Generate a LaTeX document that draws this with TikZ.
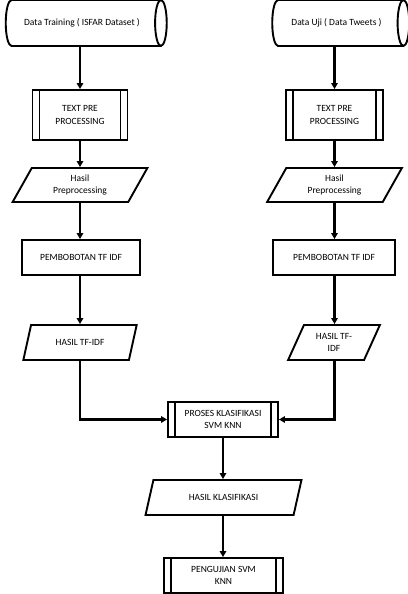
\documentclass[tikz,border=0pt]{standalone}
\usepackage{fontspec}
\setmainfont{Carlito}
\usetikzlibrary{shapes.geometric,arrows.meta}
\tikzset{
  base/.style={draw, line width=1.9pt, align=center, font=\fontsize{9.5}{12.5}\selectfont, inner sep=1pt},
  cyl/.style={base, cylinder, shape border rotate=0, aspect=1.1, minimum width=46pt},
  predef/.style={base, rectangle, minimum height=35pt,
    path picture={
      \draw[line width=1.9pt] ([xshift=7pt]path picture bounding box.north west) -- ([xshift=7pt]path picture bounding box.south west);
      \draw[line width=1.9pt] ([xshift=-7pt]path picture bounding box.north east) -- ([xshift=-7pt]path picture bounding box.south east);
    }},
  plainbox/.style={base, rectangle, minimum height=35pt},
  para/.style={base, trapezium, trapezium left angle=64, trapezium right angle=116, trapezium stretches=true, minimum height=35pt},
  arr/.style={line width=2.6pt, -{Triangle[width=6.5pt,length=6pt]}}
}
\begin{document}
\begin{tikzpicture}[x=1pt,y=-1pt]
\useasboundingbox (0,0) rectangle (407,594);
\node[cyl, minimum height=161pt] (c1) at (82,23) {Data Training ( ISFAR Dataset )};
\node[cyl, minimum height=137pt] (c2) at (336.5,23) {Data Uji ( Data Tweets )};
\node[predef, minimum width=95pt, minimum height=50pt] (tp1) at (80,115) {TEXT PRE\\PROCESSING};
\node[predef, minimum width=97pt, minimum height=50pt] (tp2) at (334.5,115) {TEXT PRE\\PROCESSING};
\node[para, minimum width=135pt, minimum height=34pt] (hp1) at (80,185) {Hasil\\Preprocessing};
\node[para, minimum width=135pt, minimum height=34pt] (hp2) at (334.5,185) {Hasil\\Preprocessing};
\node[plainbox, minimum width=118pt] (pb1) at (81,257.5) {PEMBOBOTAN TF IDF};
\node[plainbox, minimum width=122pt] (pb2) at (334,257.5) {PEMBOBOTAN TF IDF};
\node[para, minimum width=114pt] (ht1) at (80,342.5) {HASIL TF-IDF};
\node[para, minimum width=92pt] (ht2) at (334,342.5) {HASIL TF-\\IDF};
\node[predef, minimum width=110pt] (pk) at (223,419.5) {PROSES KLASIFIKASI\\SVM KNN};
\node[para, minimum width=157pt] (hk) at (223.5,497.5) {HASIL KLASIFIKASI};
\node[predef, minimum width=119pt] (pu) at (223.5,575.5) {PENGUJIAN SVM\\KNN};

\draw[arr] (c1.south -| tp1.north) -- (tp1.north);
\draw[arr] (c2.south -| tp2.north) -- (tp2.north);
\draw[arr] (tp1.south) -- (hp1.north -| tp1.south);
\draw[arr] (tp2.south) -- (hp2.north -| tp2.south);
\draw[arr] (hp1.south -| tp1.south) -- (pb1.north -| tp1.south);
\draw[arr] (hp2.south -| tp2.south) -- (pb2.north -| tp2.south);
\draw[arr] (pb1.south -| tp1.south) -- (ht1.north -| tp1.south);
\draw[arr] (pb2.south -| tp2.south) -- (ht2.north -| tp2.south);
\draw[arr] (ht1.south -| tp1.south) |- (pk.west);
\draw[arr] (ht2.south -| tp2.south) |- (pk.east);
\draw[arr] (pk.south) -- (hk.north -| pk.south);
\draw[arr] (hk.south -| pk.south) -- (pu.north -| pk.south);
\end{tikzpicture}
\end{document}
